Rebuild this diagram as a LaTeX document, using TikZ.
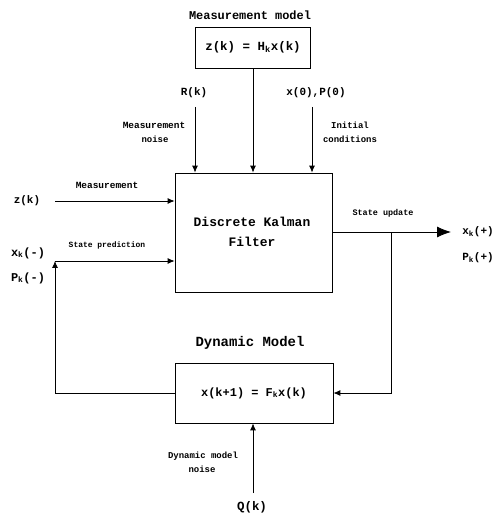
\documentclass[tikz,border=0pt]{standalone}
\usepackage{fontspec}
\setmonofont{Liberation Mono}
\usetikzlibrary{arrows.meta}
\tikzset{
  blk/.style={draw, line width=0.8pt, inner sep=0pt},
  title/.style={font=\ttfamily\bfseries\fontsize{12}{14}\selectfont, inner sep=1pt},
  eq/.style={font=\ttfamily\bfseries\fontsize{11}{13}\selectfont, inner sep=1pt},
  lab/.style={font=\ttfamily\bfseries\fontsize{9}{11}\selectfont, inner sep=1pt},
  arr/.style={line width=0.8pt, -{Latex[length=7pt,width=6pt]}},
  bigarr/.style={line width=0.8pt, -{Latex[length=14pt,width=11pt]}},
  ln/.style={line width=0.8pt}
}
\begin{document}
\begin{tikzpicture}[x=1bp,y=-1bp]
\useasboundingbox (0,0) rectangle (496,517);
% boxes
\node[blk, minimum width=115bp, minimum height=41bp, eq, font=\ttfamily\bfseries\fontsize{12.5}{14}\selectfont] (mm) at (253,47.5) {z(k) = H\textsubscript{k}x(k)};
\node[blk, minimum width=157bp, minimum height=119bp] (main) at (253.5,232.5) {};
\node[title, font=\ttfamily\bfseries\fontsize{13}{15}\selectfont] (dk1) at (252,222) {Discrete Kalman};
\node[title, font=\ttfamily\bfseries\fontsize{13}{15}\selectfont] (dk2) at (252,242) {Filter};
\node[blk, minimum width=158bp, minimum height=60bp, eq, font=\ttfamily\bfseries\fontsize{12}{14}\selectfont] (dyn) at (254,393) {x(k+1) = F\textsubscript{k}x(k)};
% titles
\node[title] (mmt) at (250,15) {Measurement model};
\node[title, font=\ttfamily\bfseries\fontsize{14}{16}\selectfont] (dynt) at (250,343) {Dynamic Model};
% inputs top
\node[eq] (R) at (194,93) {R(k)};
\node[eq] (x0) at (316,93) {x(0),P(0)};
\coordinate (Rs) at (195,107);
\coordinate (xs) at (312,107);
\draw[arr] (Rs) -- (Rs |- main.north);
\draw[arr] (xs) -- (xs |- main.north);
\draw[arr] (mm.south) -- (mm.south |- main.north);
\node[lab, font=\ttfamily\bfseries\fontsize{9.5}{11}\selectfont] (mn1) at (154,125) {Measurement};
\node[lab] (mn2) at (155,139) {noise};
\node[lab] (ic1) at (350,125) {Initial};
\node[lab] (ic2) at (350,139) {conditions};
% left inputs
\node[eq] (z) at (27,201) {z(k)};
\coordinate (zs) at (55,201);
\draw[arr] (zs) -- (zs -| main.west);
\node[lab, font=\ttfamily\bfseries\fontsize{9.5}{11}\selectfont] (ml) at (107,185) {Measurement};
\node[lab, font=\ttfamily\bfseries\fontsize{8}{10}\selectfont] (sp) at (107,245) {State prediction};
\coordinate (cp) at (55,261);
\draw[arr] (cp) -- (cp -| main.west);
\draw[arr] (dyn.west) -| (cp);
\node[eq, font=\ttfamily\bfseries\fontsize{12}{14}\selectfont] (xm) at (28,253) {x\textsubscript{k}(-)};
\node[eq, font=\ttfamily\bfseries\fontsize{12}{14}\selectfont] (pm) at (28,278) {P\textsubscript{k}(-)};
% output
\coordinate (su) at (451,232);
\coordinate (br) at (391,232);
\draw[bigarr] (main.east |- su) -- (su);
\draw[arr] (br) |- (dyn.east);
\node[lab, font=\ttfamily\bfseries\fontsize{8.5}{10}\selectfont] (sul) at (383,213) {State update};
\node[eq] (xp) at (478,232) {x\textsubscript{k}(+)};
\node[eq] (pp) at (478,258) {P\textsubscript{k}(+)};
% dynamic noise
\node[lab] (dn1) at (203,456) {Dynamic model};
\node[lab] (dn2) at (202,469) {noise};
\node[eq, font=\ttfamily\bfseries\fontsize{12.5}{14}\selectfont] (Q) at (252,507) {Q(k)};
\coordinate (qs) at (253,493);
\draw[arr] (qs) -- (qs |- dyn.south);
\end{tikzpicture}
\end{document}
